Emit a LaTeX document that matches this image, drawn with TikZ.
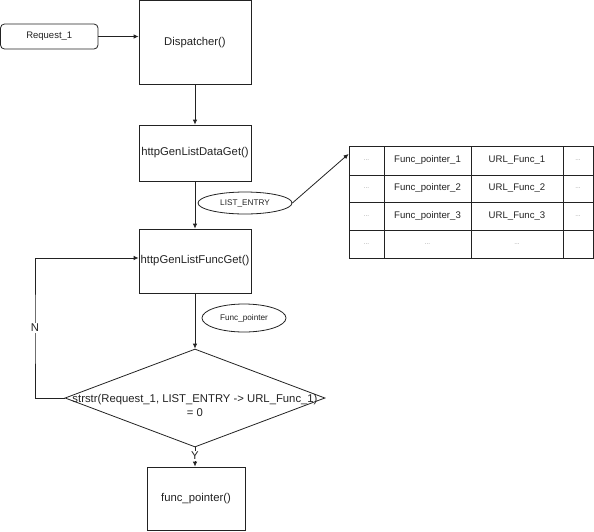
\documentclass[tikz,border=0pt]{standalone}
\usepackage{fontspec}
\setmainfont{Liberation Sans}
\usetikzlibrary{shapes.geometric,arrows.meta,calc}
\definecolor{lc}{HTML}{222222}
\definecolor{tc}{HTML}{222222}
\definecolor{dc}{HTML}{999999}
\begin{document}
\begin{tikzpicture}[x=1pt,y=-1pt,
  shape base/.style={draw=lc, line width=0.8pt, inner sep=0pt, text=tc},
  box/.style={shape base, rectangle, font=\fontsize{11.3}{13}\selectfont},
  rbox/.style={shape base, rectangle, rounded corners=4pt, font=\fontsize{9.5}{11}\selectfont},
  ell/.style={shape base, ellipse, font=\fontsize{8.2}{10}\selectfont},
  dia/.style={shape base, diamond},
  txt/.style={inner sep=0pt, text=tc, font=\fontsize{11.3}{14}\selectfont},
  lbl/.style={fill=white, inner sep=1pt, text=tc, font=\fontsize{11.3}{13}\selectfont},
  cell/.style={draw=lc, line width=0.8pt, rectangle, inner sep=0pt, text=tc, font=\fontsize{9.6}{11}\selectfont},
  dcell/.style={cell, text=dc, font=\fontsize{6.5}{8}\selectfont},
  arr/.style={draw=lc, line width=0.8pt, -{Latex[length=5pt,width=4.5pt]}},
  ln/.style={draw=lc, line width=0.8pt}
]
\useasboundingbox (0,0) rectangle (594,531);

% main flow
\node[rbox, minimum width=97.5pt, minimum height=25pt] (req) at (49.25,36.5) {Request\_1};
\node[box, minimum width=112pt, minimum height=83.5pt] (disp) at (195,42.25) {Dispatcher()};
\node[box, minimum width=112pt, minimum height=56pt] (dget) at (195,153) {httpGenListDataGet()};
\node[box, minimum width=112pt, minimum height=64pt] (fget) at (195,261) {httpGenListFuncGet()};
\node[ell, minimum width=94pt, minimum height=22pt] (le) at (245,203) {LIST\_ENTRY};
\node[ell, minimum width=84pt, minimum height=28pt] (fp) at (244,318) {Func\_pointer};
\node[dia, minimum width=260pt, minimum height=98pt] (dec) at (195,398) {};
\node[txt, align=center] (dectext) at (195,405) {strstr(Request\_1, LIST\_ENTRY -> URL\_Func\_1)\\= 0};
\node[box, minimum width=98pt, minimum height=63pt] (call) at (196,498.5) {func\_pointer()};

% table
\node[dcell, minimum width=35pt, minimum height=29pt] (c11) at (366.5,160.5) {...};
\node[cell,  minimum width=87pt, minimum height=29pt] (c12) at (427.5,160.5) {Func\_pointer\_1};
\node[cell,  minimum width=92pt, minimum height=29pt] (c13) at (517,160.5) {URL\_Func\_1};
\node[dcell, minimum width=30pt, minimum height=29pt] (c14) at (578,160.5) {...};
\node[dcell, minimum width=35pt, minimum height=27pt] (c21) at (366.5,188.5) {...};
\node[cell,  minimum width=87pt, minimum height=27pt] (c22) at (427.5,188.5) {Func\_pointer\_2};
\node[cell,  minimum width=92pt, minimum height=27pt] (c23) at (517,188.5) {URL\_Func\_2};
\node[dcell, minimum width=30pt, minimum height=27pt] (c24) at (578,188.5) {...};
\node[dcell, minimum width=35pt, minimum height=28pt] (c31) at (366.5,216) {...};
\node[cell,  minimum width=87pt, minimum height=28pt] (c32) at (427.5,216) {Func\_pointer\_3};
\node[cell,  minimum width=92pt, minimum height=28pt] (c33) at (517,216) {URL\_Func\_3};
\node[dcell, minimum width=30pt, minimum height=28pt] (c34) at (578,216) {...};
\node[dcell, minimum width=35pt, minimum height=28pt] (c41) at (366.5,244) {...};
\node[dcell, minimum width=87pt, minimum height=28pt] (c42) at (427.5,244) {...};
\node[dcell, minimum width=92pt, minimum height=28pt] (c43) at (517,244) {...};
\node[cell,  minimum width=30pt, minimum height=28pt] (c44) at (578,244) {};

% connectors
\draw[arr] (req.east) -- (req.east -| disp.west);
\draw[arr] (disp.south) -- (dget.north);
\draw[arr] (dget.south) -- (fget.north);
\draw[arr] (fget.south) -- (dec.north);
\coordinate (tin) at ($(c11.north west)!0.28!(c11.south west)$);
\draw[arr] (le.east) -- (tin);
\draw[arr] (dec.west) -| (35,330) |- ([yshift=3pt]fget.west);
\node[lbl] (nlab) at (35,328) {N};
\draw[arr] (dec.south) -- (dec.south |- call.north);
\node[lbl] (ylab) at (195,456) {Y};
\end{tikzpicture}
\end{document}
